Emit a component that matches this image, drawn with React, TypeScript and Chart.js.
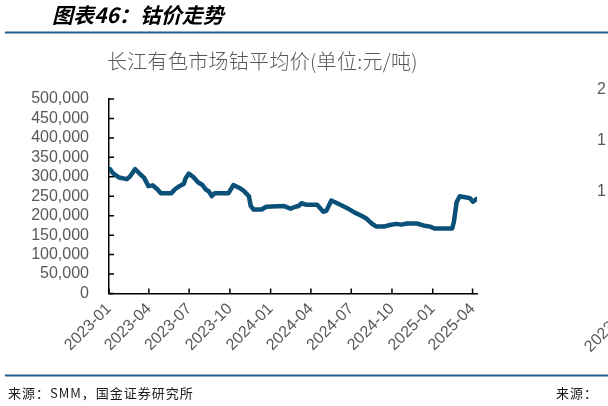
import React, { useRef, useEffect } from "react";
import { Chart, registerables } from "chart.js";

Chart.register(...registerables);

// 长江有色市场钴平均价 (元/吨)
const priceDates = [
  "2023-01-03", "2023-01-11", "2023-01-24", "2023-02-10", "2023-02-17", "2023-03-01",
  "2023-03-13", "2023-03-21", "2023-03-31", "2023-04-10", "2023-04-20", "2023-04-28",
  "2023-05-22", "2023-05-30", "2023-06-09", "2023-06-19", "2023-06-23", "2023-06-30",
  "2023-07-10", "2023-07-21", "2023-07-31", "2023-08-07", "2023-08-15", "2023-08-21",
  "2023-08-28", "2023-09-28", "2023-10-09", "2023-10-18", "2023-10-25", "2023-11-03",
  "2023-11-13", "2023-11-17", "2023-11-23", "2023-12-12", "2023-12-22", "2024-01-30",
  "2024-02-15", "2024-02-26", "2024-03-04", "2024-03-11", "2024-03-22", "2024-04-15",
  "2024-04-29", "2024-05-06", "2024-05-17", "2024-06-03", "2024-06-21", "2024-07-09",
  "2024-07-24", "2024-08-05", "2024-08-16", "2024-08-27", "2024-09-13", "2024-09-26",
  "2024-10-11", "2024-10-22", "2024-11-04", "2024-11-26", "2024-12-11", "2024-12-26",
  "2025-01-06", "2025-02-14", "2025-02-18", "2025-02-24", "2025-03-03", "2025-03-18",
  "2025-03-26", "2025-04-02", "2025-04-10",
];
const cobaltPrice = [
  320000, 308000, 298000, 294000, 300000, 320000,
  306000, 298000, 276000, 278000, 268000, 258000,
  258000, 268000, 276000, 282000, 296000, 308000,
  300000, 286000, 279000, 268000, 262000, 250000,
  258000, 258000, 279000, 274000, 270000, 262000,
  250000, 225000, 216000, 216000, 223000, 225000,
  218000, 223000, 225000, 232000, 228000, 228000,
  210000, 213000, 239000, 230000, 220000, 208000,
  200000, 192000, 180000, 172000, 172000, 176000,
  179000, 177000, 180000, 180000, 175000, 172000,
  167000, 167000, 185000, 235000, 250000, 247000,
  245000, 236000, 243000,
];
const quarterLabels = [
  "2023-01", "2023-04", "2023-07", "2023-10", "2024-01",
  "2024-04", "2024-07", "2024-10", "2025-01", "2025-04",
];
const axisStart = "2023-01-01";
const axisEnd = "2025-04-11";

const dayIndex = (s: string) => {
  const [y, m, d] = s.split("-").map(Number);
  const [y0, m0, d0] = axisStart.split("-").map(Number);
  return (Date.UTC(y, m - 1, d) - Date.UTC(y0, m0 - 1, d0)) / 86400000;
};

const LINE_BLUE = "#0b5079";
const RULE_BLUE = "#1f5c87";
const GREY = "#595959";
const CJK = '"Noto Sans CJK SC", sans-serif';
const LATIN = '"Liberation Sans", Arial, sans-serif';

const decorPlugin = {
  id: "decor",
  afterDraw(chart: Chart) {
    const { ctx } = chart;
    const xs = chart.scales.x;
    const ys = chart.scales.y;
    ctx.save();

    // inner tick marks
    ctx.strokeStyle = "#000";
    ctx.lineWidth = 1.5;
    ctx.beginPath();
    xs.ticks.forEach((t) => {
      const px = xs.getPixelForValue(t.value);
      ctx.moveTo(px, ys.bottom);
      ctx.lineTo(px, ys.bottom - 5);
    });
    ys.ticks.forEach((t) => {
      const py = ys.getPixelForValue(t.value);
      ctx.moveTo(xs.left, py);
      ctx.lineTo(xs.left + 5, py);
    });
    ctx.stroke();

    // header
    ctx.fillStyle = "#000";
    ctx.font = `italic bold 21px ${CJK}`;
    ctx.textAlign = "left";
    ctx.textBaseline = "middle";
    ctx.fillText("图表46：钴价走势", 52, 15);

    // rules
    ctx.strokeStyle = RULE_BLUE;
    ctx.lineWidth = 2;
    ctx.beginPath();
    ctx.moveTo(5, 32.5);
    ctx.lineTo(608, 32.5);
    ctx.moveTo(5, 375.5);
    ctx.lineTo(608, 375.5);
    ctx.stroke();

    // chart title
    ctx.fillStyle = GREY;
    ctx.font = `300 20px ${CJK}`;
    (ctx as any).letterSpacing = "0.3px";
    ctx.fillText("长江有色市场钴平均价(单位:元/吨)", 107, 61);

    // source
    ctx.fillStyle = "#1a1a1a";
    ctx.font = `13px ${CJK}`;
    (ctx as any).letterSpacing = "1px";
    ctx.fillText("来源：SMM，国金证券研究所", 8, 393);
    ctx.fillText("来源：", 556, 393);
    (ctx as any).letterSpacing = "0px";

    // neighbouring chart, cut off at the edge
    ctx.fillStyle = GREY;
    ctx.font = `16px ${LATIN}`;
    ctx.fillText("2", 597, 90);
    ctx.fillText("1", 597, 141);
    ctx.fillText("1", 597, 192);
    ctx.translate(629, 308);
    ctx.rotate(-Math.PI / 4);
    ctx.textAlign = "right";
    ctx.fillText("2023-01", 0, 0);

    ctx.restore();
  },
};

const CobaltChart: React.FC = () => {
  const canvasRef = useRef<HTMLCanvasElement>(null);
  const chartInstance = useRef<Chart | null>(null);

  useEffect(() => {
    if (!canvasRef.current) return;
    const ctx = canvasRef.current.getContext("2d");
    if (!ctx) return;

    if (chartInstance.current) {
      chartInstance.current.destroy();
    }

    const tickValues = quarterLabels.map((q) => dayIndex(q + "-01"));

    chartInstance.current = new Chart(ctx, {
      type: "line",
      data: {
        datasets: [
          {
            label: "钴平均价",
            data: priceDates.map((d, i) => ({ x: dayIndex(d), y: cobaltPrice[i] })),
            borderColor: LINE_BLUE,
            backgroundColor: LINE_BLUE,
            borderWidth: 4.5,
            pointRadius: 0,
            borderJoinStyle: "round",
            borderCapStyle: "round",
            tension: 0,
          },
        ],
      },
      options: {
        animation: false,
        responsive: false,
        layout: { padding: { top: 99, right: 131, left: 0, bottom: 0 } },
        plugins: {
          legend: { display: false },
          tooltip: { enabled: false },
        },
        scales: {
          x: {
            type: "linear",
            min: 0,
            max: dayIndex(axisEnd),
            afterBuildTicks: (scale: any) => {
              scale.ticks = tickValues.map((v) => ({ value: v }));
            },
            afterFit: (scale: any) => {
              scale.height = 112.5;
            },
            grid: { display: false, drawTicks: false },
            border: { display: true, color: "#000", width: 1.5 },
            ticks: {
              autoSkip: false,
              maxRotation: 45,
              minRotation: 45,
              padding: 6,
              color: GREY,
              font: { family: LATIN, size: 16 },
              callback: (v: any) => quarterLabels[tickValues.indexOf(Number(v))] ?? "",
            },
          },
          y: {
            min: 0,
            max: 500000,
            afterFit: (scale: any) => {
              scale.width = 109;
            },
            grid: { display: false, drawTicks: false },
            border: { display: true, color: "#000", width: 1.5 },
            ticks: {
              autoSkip: false,
              stepSize: 50000,
              padding: 20,
              color: GREY,
              font: { family: LATIN, size: 16 },
              callback: (v: any) => Number(v).toLocaleString("en-US"),
            },
          },
        },
      },
      plugins: [decorPlugin],
    });

    return () => {
      if (chartInstance.current) {
        chartInstance.current.destroy();
        chartInstance.current = null;
      }
    };
  }, []);

  return (
    <div style={{ position: "absolute", left: 0, top: 0, width: 608, height: 406, background: "#fff" }}>
      <canvas ref={canvasRef} width={608} height={406}></canvas>
    </div>
  );
};

export default function App() {
  return <CobaltChart />;
}
